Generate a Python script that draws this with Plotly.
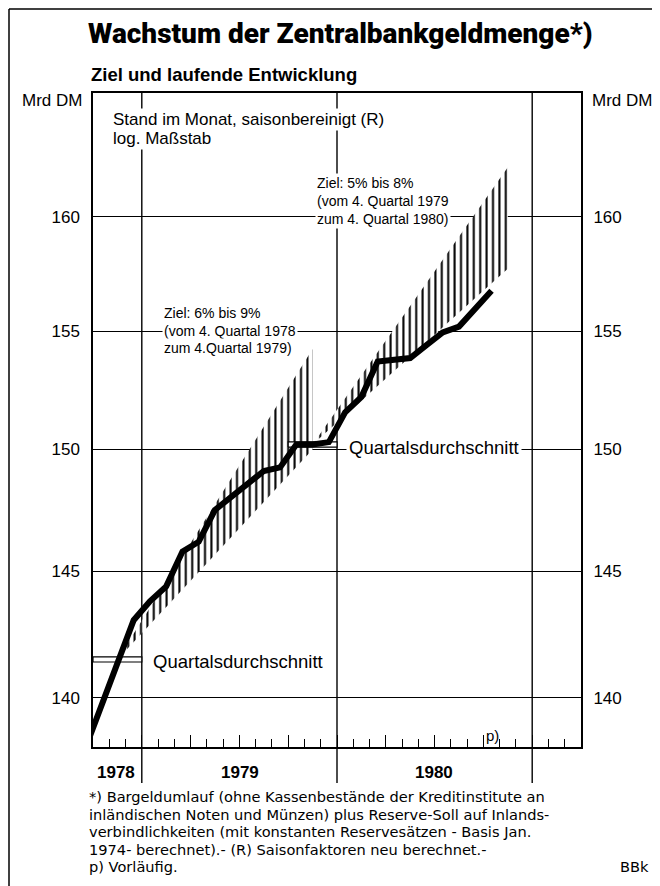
import math
import plotly.graph_objects as go

# ---------------- data ----------------
months = ["1978-09", "1978-10", "1978-11", "1978-12",
          "1979-01", "1979-02", "1979-03", "1979-04", "1979-05", "1979-06",
          "1979-07", "1979-08", "1979-09", "1979-10", "1979-11", "1979-12",
          "1980-01", "1980-02", "1980-03", "1980-04", "1980-05", "1980-06",
          "1980-07", "1980-08", "1980-09", "1980-10"]
values = [138.0, 139.7, 141.4, 143.05,
          143.8, 144.4, 145.8, 146.2, 147.5, 148.05,
          148.55, 149.1, 149.25, 150.2, 150.2, 150.3,
          151.55, 152.2, 153.7, 153.75, 153.85, 154.4,
          154.95, 155.2, 156.0, 156.75]

# target corridors (base = Q4 average of previous year, growth in % p.a.)
target_base_year = [1978, 1979]
target_base = [141.5, 150.2]
target_low = [6, 5]
target_high = [9, 8]

y_ticks = [140, 145, 150, 155, 160]
year_labels = ["1978", "1979", "1980"]

AXIS_START = (1978, 10)   # left edge of the time axis
AXIS_MONTHS = 30          # Oct 1978 .. Mar 1981


def month_index(label):
    y, m = map(int, label.split("-"))
    return (y - AXIS_START[0]) * 12 + (m - AXIS_START[1])


x_vals = [month_index(m) + 0.5 for m in months]

# ---------------- geometry (reference pixels; page has 8px body margin) ----
OFF = 8
W, H = 660 - OFF, 886 - OFF
L, R, T, B = 93 - OFF, 79, 93 - OFF, 139
PW, PH = W - L - R, H - T - B


def fx(px):
    return (px - OFF - L) / PW


def fy(py):
    return (H - B - (py - OFF)) / PH


FONT = "Liberation Sans, Arial, Helvetica, sans-serif"
HEAVY = "Roboto, Liberation Sans, Arial, sans-serif"
WIDE = "DejaVu Sans, Liberation Sans, Arial, sans-serif"

fig = go.Figure()

# corridors (hatched)
for by, base, lo, hi in zip(target_base_year, target_base, target_low, target_high):
    x0 = month_index(f"{by}-11") + 0.5
    x1 = x0 + 12
    xs = [x0, x1, x1, x0]
    ys = [base, base * (1 + hi / 100), base * (1 + lo / 100), base]
    fig.add_trace(go.Scatter(
        x=xs, y=ys, mode="lines", fill="toself",
        line=dict(width=0, color="rgba(0,0,0,0)"),
        fillpattern=dict(shape="|", size=6.4, solidity=0.32,
                         fgcolor="black", bgcolor="white", fillmode="replace"),
        hoverinfo="skip", showlegend=False))

# Q4 averages (thin outlined bars)
for by, base in zip(target_base_year, target_base):
    xa = month_index(f"{by}-10")
    xb = xa + 3
    f = math.exp(2.6 / 3602)
    fig.add_trace(go.Scatter(
        x=[xa, xb, xb, xa, xa], y=[base / f, base / f, base * f, base * f, base / f],
        mode="lines", fill="toself", fillcolor="white",
        line=dict(width=1.2, color="black"), hoverinfo="skip", showlegend=False))

# actual development
fig.add_trace(go.Scatter(
    x=x_vals, y=values, mode="lines",
    line=dict(width=6, color="black"),
    hoverinfo="skip", showlegend=False))

y_range = [math.log10(138.1), math.log10(165.6)]

fig.update_layout(
    width=W, height=H,
    margin=dict(l=L, r=R, t=T, b=B, autoexpand=False),
    paper_bgcolor="white", plot_bgcolor="white",
    font=dict(family=FONT, color="black", size=16),
    showlegend=False,
    xaxis=dict(range=[0, AXIS_MONTHS], showgrid=False, zeroline=False,
               showticklabels=False, showline=True, linecolor="black",
               linewidth=1.5, mirror=True,
               tickmode="linear", tick0=0, dtick=3, ticks="inside",
               ticklen=12, tickwidth=1.3, tickcolor="black",
               minor=dict(tick0=0, dtick=1, ticks="inside", ticklen=8,
                          tickwidth=1.3, tickcolor="black", showgrid=False)),
    yaxis=dict(type="log", range=y_range, tickmode="array",
               tickvals=y_ticks, ticktext=[str(v) for v in y_ticks],
               showgrid=True, gridcolor="black", gridwidth=1.3,
               zeroline=False, showline=True, linecolor="black",
               linewidth=1.5, mirror=True, ticks="outside", ticklen=8,
               tickcolor="rgba(0,0,0,0)", tickfont=dict(size=17)),
    yaxis2=dict(type="log", range=y_range, overlaying="y", side="right",
                tickmode="array", tickvals=y_ticks,
                ticktext=[str(v) for v in y_ticks], showgrid=False,
                zeroline=False, showline=False, ticks="outside", ticklen=8,
                tickcolor="rgba(0,0,0,0)", tickfont=dict(size=17)),
)
# dummy trace to show right axis
fig.add_trace(go.Scatter(x=[None], y=[None], yaxis="y2", showlegend=False,
                         hoverinfo="skip"))

# year separators (extend below the axis)
for yl in year_labels[1:] + ["1981"]:
    xm = month_index(f"{yl}-01")
    fig.add_shape(type="line", xref="x", yref="paper", x0=xm, x1=xm,
                  y0=fy(783), y1=1, line=dict(color="black", width=1.4),
                  layer="below")

# outer frame (left + top)
fig.add_shape(type="line", xref="paper", yref="paper", x0=fx(9), x1=fx(9),
              y0=fy(9), y1=fy(886), line=dict(color="black", width=1.5))
fig.add_shape(type="line", xref="paper", yref="paper", x0=fx(9), x1=fx(660),
              y0=fy(9), y1=fy(9), line=dict(color="black", width=1.5))


def ann(text, x, y, size=16, xanchor="left", family=FONT, bg=None, pad=1, weight=None):
    font = dict(size=size, family=family, color="black")
    if weight:
        font["weight"] = weight
    d = dict(text=text, xref="paper", yref="paper", x=fx(x), y=fy(y),
             xanchor=xanchor, yanchor="middle", showarrow=False,
             font=font, borderpad=pad)
    if bg:
        d["bgcolor"] = bg
    fig.add_annotation(**d)


ann("Wachstum der Zentralbankgeldmenge*)", 340, 33, size=28, xanchor="center",
    family=HEAVY, weight=900)
ann("<b>Ziel und laufende Entwicklung</b>", 89, 75, size=18.5)
ann("Mrd DM", 20, 101, size=17)
ann("Mrd DM", 590, 101, size=17)

ann("Stand im Monat, saisonbereinigt (R)", 111, 119, size=17, bg="white")
ann("log. Maßstab", 111, 138, size=17, bg="white")

for i, t in enumerate(["Ziel: 6% bis 9%", "(vom 4. Quartal 1978", "zum 4.Quartal 1979)"]):
    ann(t, 162, 313 + i * 17.5, size=14, bg="white")
for i, t in enumerate(["Ziel: 5% bis 8%", "(vom 4. Quartal 1979", "zum 4. Quartal 1980)"]):
    ann(t, 315, 183 + i * 18, size=14, bg="white")

ann("Quartalsdurchschnitt", 151, 661, size=18.5)
ann("Quartalsdurchschnitt", 346, 447, size=18.5, bg="white", pad=2)
ann("p)", 492, 735, size=15, xanchor="center")

for lab, cx in zip(year_labels, [116, 240, 434]):
    ann(f"<b>{lab}</b>", cx, 772, size=17, xanchor="center")

foot = ["*) Bargeldumlauf (ohne Kassenbestände der Kreditinstitute an",
        "inländischen Noten und Münzen) plus Reserve-Soll auf Inlands-",
        "verbindlichkeiten (mit konstanten Reservesätzen - Basis Jan.",
        "1974- berechnet).- (R) Saisonfaktoren neu berechnet.-",
        "p) Vorläufig."]
for i, t in enumerate(foot):
    ann(t, 88, 797 + i * 17.4, size=14.6, family=WIDE, pad=0)
ann("BBk", 650, 866.6, size=14.6, family=WIDE, xanchor="right", pad=0)

fig.write_html("out.html")
